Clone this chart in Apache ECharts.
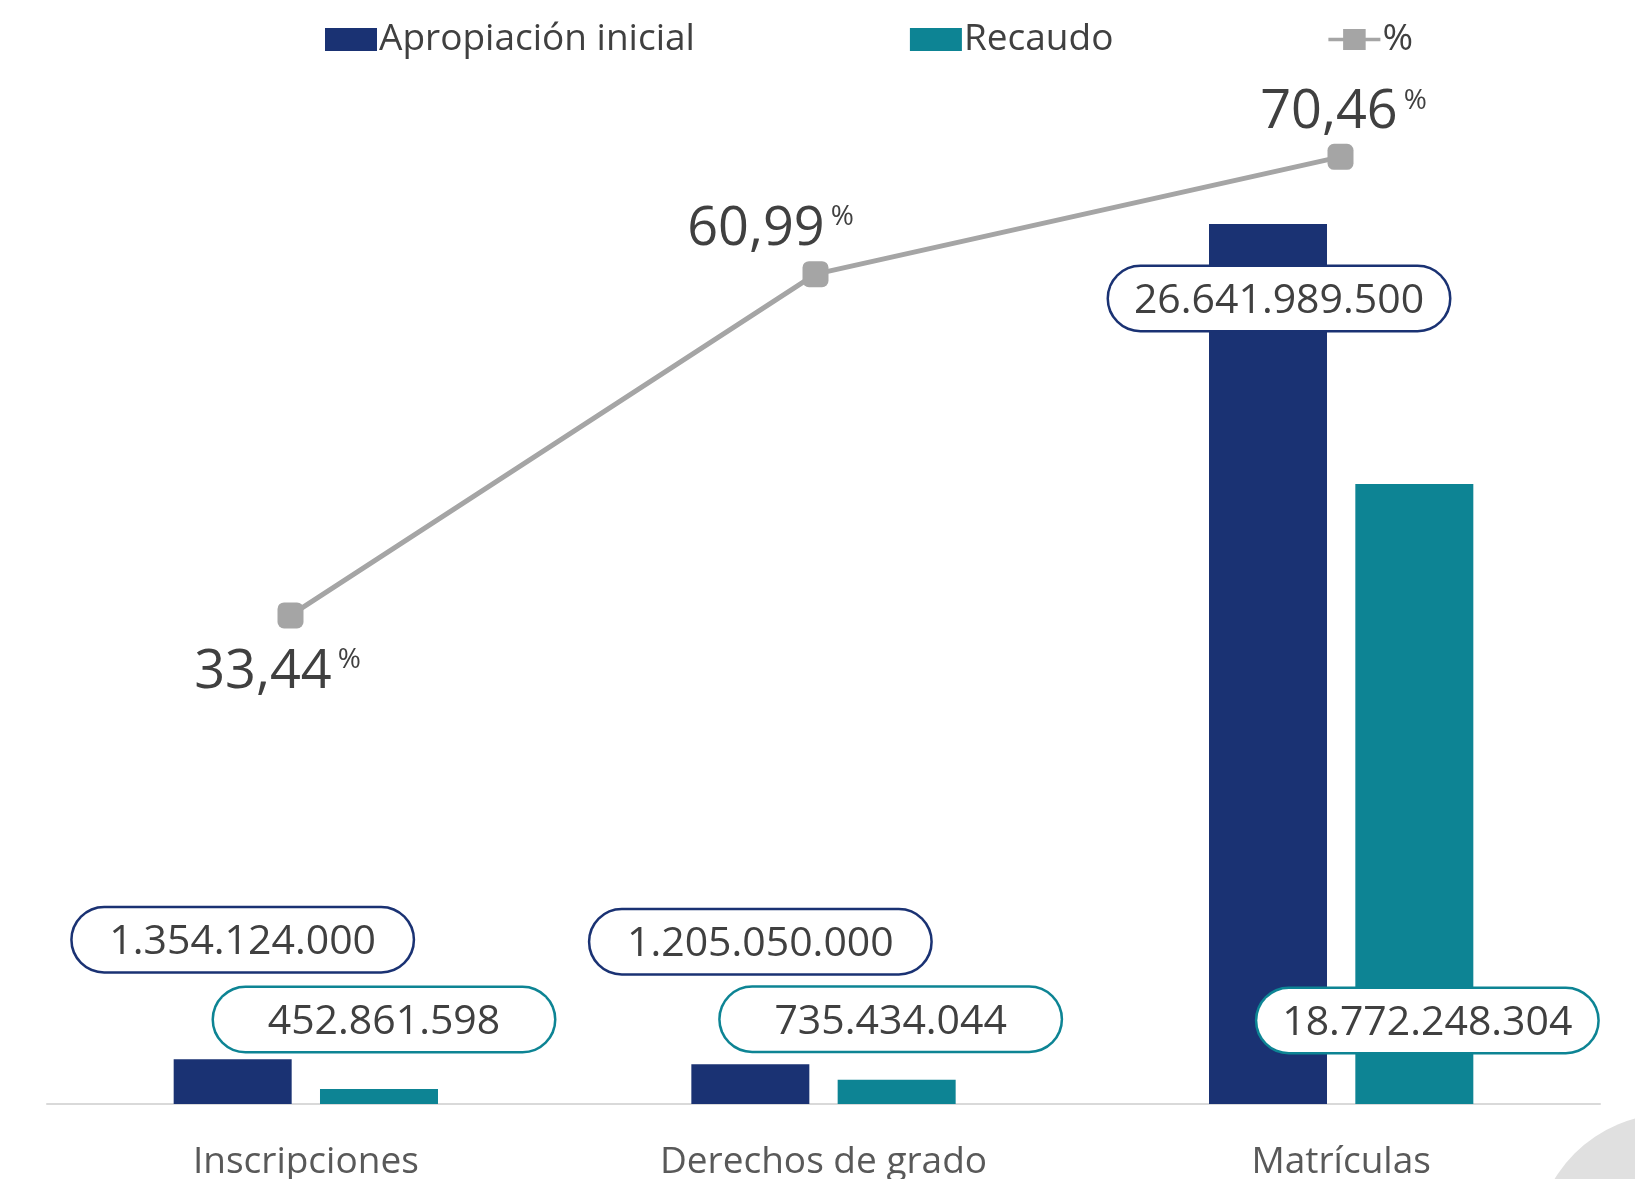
<!DOCTYPE html>
<html>
<head>
<meta charset="utf-8">
<script src="https://cdn.jsdelivr.net/npm/echarts@6/dist/echarts.min.js"></script>
<style>
html,body{margin:0;padding:0;background:#fff;}
#chart{width:1635px;height:1179px;}
</style>
</head>
<body>
<div id="chart"></div>
<script>
// categorias y valores
let categorias = ["Inscripciones", "Derechos de grado", "Matrículas"];
let apropiacion = [1354124000, 1205050000, 26641989500];
let recaudo = [452861598, 735434044, 18772248304];
let porcentaje = [33.44, 60.99, 70.46];

let chart = echarts.init(document.getElementById("chart"));

//miles con punto
function miles(v){
    return String(v).replace(/\B(?=(\d{3})+(?!\d))/g, ".");
}

function caja(color){
    return {
        show: true,
        formatter: function(p){ return miles(p.value); },
        fontFamily: "Open Sans",
        fontSize: 41,
        color: "#404040",
        backgroundColor: "#fff",
        borderColor: color,
        borderWidth: 2.5,
        borderRadius: 32,
        width: 340,
        height: 43,
        lineHeight: 43,
        padding: [13, 0, 7, 0],
        align: "center"
    };
}

// posiciones de etiquetas por barra
let posApropiacion = [
    {position: "top", offset: [10, -83]},
    {position: "top", offset: [10, -86]},
    {position: "insideTop", offset: [11, 38]}
];
let posRecaudo = [
    {position: "top", offset: [5, -33]},
    {position: "top", offset: [-6, -24]},
    {position: "insideBottom", offset: [13, -47]}
];
let posPct = [
    {position: "bottom", offset: [-13, 8]},
    {position: "top", offset: [-45, 4]},
    {position: "top", offset: [3, 5]}
];

let option = {
    backgroundColor: "#fff",
    animation: false,
    graphic: [{
        type: "circle",
        shape: {cx: 1670, cy: 1249, r: 135},
        style: {fill: "#e0e0e0"},
        z: -10
    }],
    legend: {
        top: 16,
        left: 320,
        itemWidth: 52,
        itemHeight: 23,
        itemGap: 215,
        textStyle: {fontFamily: "Open Sans", fontSize: 37, color: "#404040", padding: [0, 0, 0, -3]},
        data: [
            {name: "Apropiación inicial", icon: "rect"},
            {name: "Recaudo", icon: "rect"},
            //linea con cuadro, como en excel
            {name: "%", icon: "path://M0,10L17,10L17,0L43,0L43,10L60,10L60,14L43,14L43,24L17,24L17,14L0,14Z"}
        ]
    },
    grid: [
        {left: 47, right: 35, top: 113, bottom: 75, outerBoundsMode: "none"},
        {left: 28, right: 32, top: 113, bottom: 75, outerBoundsMode: "none"}
    ],
    xAxis: [{
        type: "category",
        gridIndex: 0,
        data: categorias,
        axisLine: {lineStyle: {color: "#d9d9d9", width: 2}},
        axisTick: {show: false},
        axisLabel: {fontFamily: "Open Sans", fontSize: 37, color: "#595959", margin: 40}
    }, {
        type: "category",
        gridIndex: 1,
        data: categorias,
        show: false
    }],
    yAxis: [{
        type: "value",
        gridIndex: 0,
        min: 0,
        max: 30000000000,
        show: false,
        splitLine: {show: false}
    }, {
        type: "value",
        gridIndex: 1,
        min: -6,
        max: 74,
        show: false,
        splitLine: {show: false}
    }],
    series: [{
        name: "Apropiación inicial",
        type: "bar",
        barWidth: 118,
        barGap: "24%",
        itemStyle: {color: "#1a3273"},
        label: caja("#1a3273"),
        z: 3,
        data: apropiacion.map(function(v, i){
            return {value: v, label: posApropiacion[i]};
        })
    }, {
        name: "Recaudo",
        type: "bar",
        barWidth: 118,
        barGap: "24%",
        itemStyle: {color: "#0d8494"},
        label: caja("#0d8494"),
        z: 3,
        data: recaudo.map(function(v, i){
            return {value: v, label: posRecaudo[i]};
        })
    }, {
        name: "%",
        type: "line",
        xAxisIndex: 1,
        yAxisIndex: 1,
        symbol: "roundRect",
        symbolSize: 26,
        itemStyle: {color: "#a5a5a5"},
        lineStyle: {color: "#a5a5a5", width: 5},
        z: 2,
        label: {
            show: true,
            formatter: function(p){
                return "{v|" + p.value.toFixed(2).replace(".", ",") + "}{p|%}";
            },
            rich: {
                v: {fontFamily: "Open Sans", fontSize: 54, color: "#404040", lineHeight: 62},
                p: {fontFamily: "Open Sans", fontSize: 28, color: "#404040", verticalAlign: "top", padding: [5, 0, 0, 6]}
            }
        },
        data: porcentaje.map(function(v, i){
            return {value: v, label: posPct[i]};
        })
    }]
};
chart.setOption(option);
</script>
</body>
</html>
